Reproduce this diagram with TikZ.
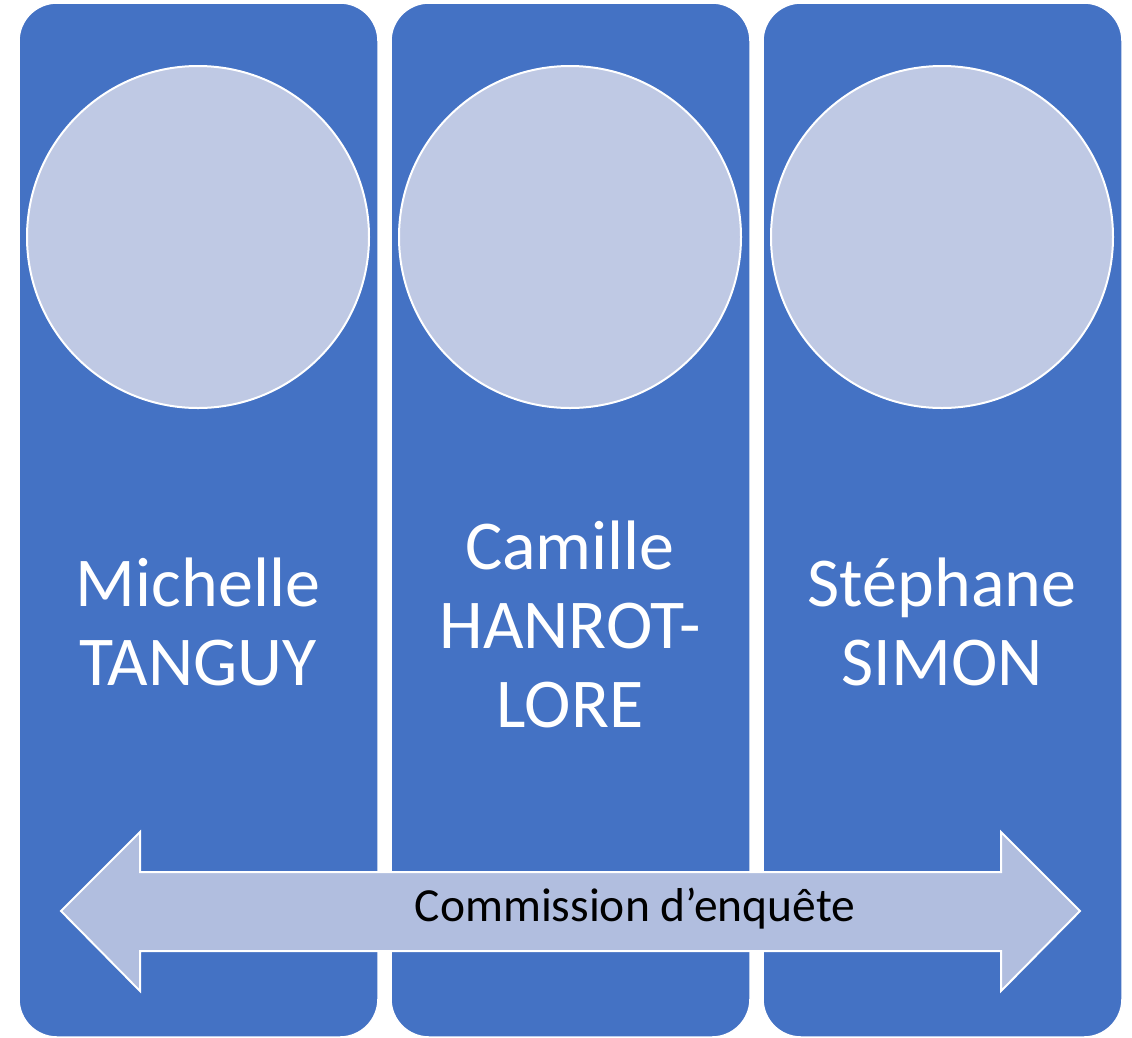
\documentclass[tikz,border=0pt]{standalone}
\usepackage{fontspec}
\setmainfont{Carlito}
\definecolor{boxblue}{HTML}{4472C4}
\definecolor{circfill}{HTML}{BFC9E4}
\definecolor{arrowfill}{HTML}{B1BEDF}
\tikzset{
  colbox/.style={draw=white, line width=1.5pt, fill=boxblue, rounded corners=38pt,
    minimum width=359pt, minimum height=1034pt, inner sep=0pt},
  photobox/.style={circle, draw=white, line width=2pt, fill=circfill, minimum size=342pt, inner sep=0pt},
  personname/.style={text=white, align=center, font=\fontsize{70}{79}\selectfont},
  bannershape/.style={draw=white, line width=2pt, fill=arrowfill, line join=miter},
  bannertext/.style={text=black, font=\fontsize{47.5}{52}\selectfont}
}
\begin{document}
\begin{tikzpicture}[x=1pt,y=-1pt]
\useasboundingbox (0,0) rectangle (1132,1037);
\node[colbox] (c1) at (198.5,520) {};
\node[colbox] (c2) at (570.5,520) {};
\node[colbox] (c3) at (942.5,520) {};
\node[photobox] (p1) at (198,237) {};
\node[photobox] (p2) at (570,237) {};
\node[photobox] (p3) at (942,237) {};
\node[personname] (n1) at (198,622) {Michelle\\TANGUY};
\node[personname] (n2) at (570,624) {Camille\\HANROT-\\LORE};
\node[personname] (n3) at (942,622) {Stéphane\\SIMON};
\path[bannershape] (61,911) -- (140,832) -- (140,872) -- (1001,872) -- (1001,832) -- (1080,911)
  -- (1001,991) -- (1001,951) -- (140,951) -- (140,991) -- cycle;
\node[bannertext] (bt) at (635,909) {Commission d’enquête};
\end{tikzpicture}
\end{document}
